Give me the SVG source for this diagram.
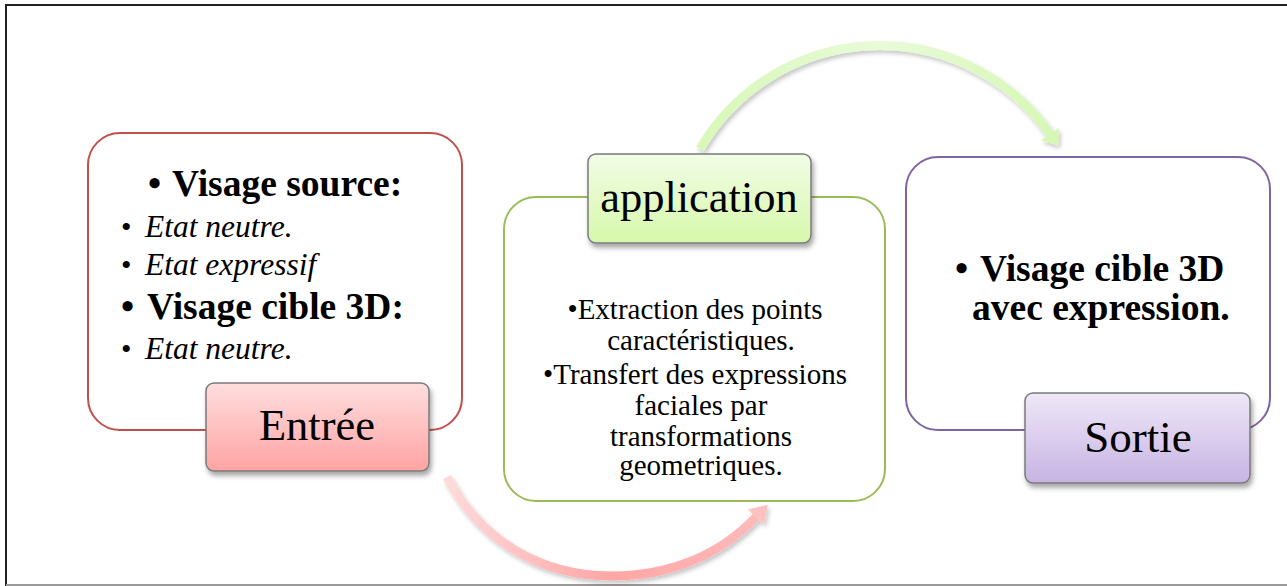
<svg xmlns="http://www.w3.org/2000/svg" width="1287" height="586" viewBox="0 0 1287 586">
<style>
.frame{fill:#fff;stroke:none}
.big{fill:#fff;stroke-width:2}
.tag{stroke:#7a7a7a;stroke-width:1.5}
.t{font-family:"Liberation Serif","Times New Roman",serif;fill:#000}
.b{font-weight:bold;font-size:37.5px}
.i{font-style:italic;font-size:31.5px}
.bu{font-size:30px}
.lbl{font-size:44.5px;text-anchor:middle}
.g{font-size:29px;text-anchor:middle}
.conn{fill:none;stroke-width:9;stroke-linecap:butt}
</style>
<defs>
<filter id="sh" x="-10%" y="-10%" width="130%" height="140%">
<feDropShadow dx="2" dy="4" stdDeviation="2.5" flood-color="#000" flood-opacity="0.35"/>
</filter>
<filter id="ash" x="-20%" y="-20%" width="140%" height="140%">
<feDropShadow dx="2" dy="3" stdDeviation="2" flood-color="#000" flood-opacity="0.22"/>
</filter>
<linearGradient id="gRed" x1="0" y1="0" x2="0" y2="1">
<stop offset="0" stop-color="#ffdede"/><stop offset="1" stop-color="#ffa3a3"/>
</linearGradient>
<linearGradient id="gGreen" x1="0" y1="0" x2="0" y2="1">
<stop offset="0" stop-color="#f2fde6"/><stop offset="1" stop-color="#d6f8ab"/>
</linearGradient>
<linearGradient id="gPurple" x1="0" y1="0" x2="0" y2="1">
<stop offset="0" stop-color="#efe8f8"/><stop offset="1" stop-color="#c6b3e3"/>
</linearGradient>
<linearGradient id="aRed" gradientUnits="userSpaceOnUse" x1="447" y1="0" x2="775" y2="0">
<stop offset="0" stop-color="#ffdada"/><stop offset="0.5" stop-color="#ffa6a6"/><stop offset="1" stop-color="#ffbcbc"/>
</linearGradient>
<linearGradient id="aGreen" gradientUnits="userSpaceOnUse" x1="700" y1="0" x2="1065" y2="0">
<stop offset="0" stop-color="#d8f8b8"/><stop offset="0.5" stop-color="#e8fbd8"/><stop offset="1" stop-color="#d6f7b4"/>
</linearGradient>
<marker id="mRed" markerUnits="userSpaceOnUse" markerWidth="24" markerHeight="24" refX="3" refY="12" orient="auto">
<path d="M3 1 L20 12 L3 23 Z" fill="#ffc0c0"/>
</marker>
<marker id="mGreen" markerUnits="userSpaceOnUse" markerWidth="24" markerHeight="24" refX="4" refY="12" orient="auto">
<path d="M4 1 L18 12 L4 23 Z" fill="#d6f7b4"/>
</marker>
</defs>
<rect class="frame" x="0" y="0" width="1287" height="586"/>
<g id="frame-lines">
<line x1="6" y1="5" x2="1287" y2="5" stroke="#222" stroke-width="2"/>
<line x1="6" y1="4" x2="6" y2="586" stroke="#222" stroke-width="2"/>
<line x1="6" y1="585" x2="1287" y2="585" stroke="#9a9a9a" stroke-width="2"/>
</g>
<g id="connectors" filter="url(#ash)">
<path class="conn" d="M 447 477 C 480 540 540 576 612 576 C 670 576 720 555 756 517" stroke="url(#aRed)" marker-end="url(#mRed)"/>
<path class="conn" d="M 700 149 A 208 208 0 0 1 1050 134" stroke="url(#aGreen)" marker-end="url(#mGreen)"/>
</g>
<g id="entree">
<rect class="big" x="88" y="133" width="374" height="297" rx="32" stroke="#c0504d"/>
<text class="t b" x="148" y="196">•</text><text class="t b" x="172" y="196">Visage source:</text>
<text class="t bu" x="121" y="237">•</text><text class="t i" x="145" y="237">Etat neutre.</text>
<text class="t bu" x="121" y="275">•</text><text class="t i" x="145" y="275">Etat expressif</text>
<text class="t b" x="121" y="319">•</text><text class="t b" x="147" y="319">Visage cible 3D:</text>
<text class="t bu" x="121" y="359">•</text><text class="t i" x="145" y="359">Etat neutre.</text>
<rect class="tag" x="206" y="383" width="223" height="88" rx="8" fill="url(#gRed)" filter="url(#sh)"/>
<text class="t lbl" x="317" y="440">Entrée</text>
</g>
<g id="application">
<rect class="big" x="504" y="197" width="381" height="304" rx="32" stroke="#9bbb59"/>
<text class="t g" x="695" y="319">•Extraction des points</text>
<text class="t g" x="701" y="350">caractéristiques.</text>
<text class="t g" x="695" y="384">•Transfert des expressions</text>
<text class="t g" x="701" y="415">faciales par</text>
<text class="t g" x="701" y="446">transformations</text>
<text class="t g" x="701" y="475">geometriques.</text>
<rect class="tag" x="588" y="154" width="223" height="89" rx="8" fill="url(#gGreen)" filter="url(#sh)"/>
<text class="t lbl" x="699" y="212">application</text>
</g>
<g id="sortie">
<rect class="big" x="906" y="157" width="364" height="273" rx="32" stroke="#8064a2"/>
<text class="t b" x="955" y="281">•</text><text class="t b" x="980" y="281">Visage cible 3D</text>
<text class="t b" x="972" y="320">avec expression.</text>
<rect class="tag" x="1025" y="393" width="225" height="90" rx="8" fill="url(#gPurple)" filter="url(#sh)"/>
<text class="t lbl" x="1138" y="452" style="font-size:45px">Sortie</text>
</g>
</svg>
